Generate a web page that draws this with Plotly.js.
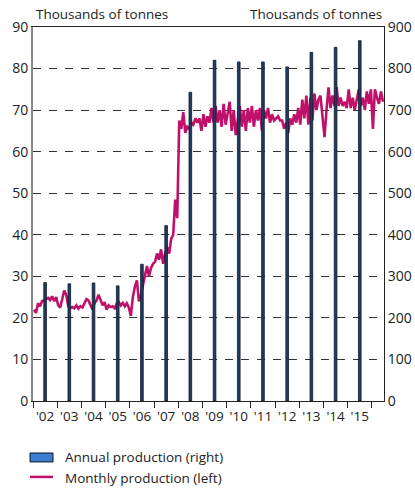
<!DOCTYPE html>
<html>
<head>
<meta charset="utf-8">
<script src="https://cdn.plot.ly/plotly-3.0.1.min.js"></script>
<style>
  html, body { margin: 0; padding: 0; background: #fff; }
  #chart { width: 415px; height: 488px; }
</style>
</head>
<body>
<div id="chart"></div>
<script>
// Annual production, thousands of tonnes (right axis)
var years = [2002, 2003, 2004, 2005, 2006, 2007, 2008, 2009, 2010, 2011, 2012, 2013, 2014, 2015];
var annual = [285, 282, 284, 277, 329, 422, 743, 820, 816, 816, 804, 839, 851, 867];

// Monthly production, thousands of tonnes (left axis), Jan 2002 - Jun 2016
var monthly2002 = [22.0, 21.2, 23.5, 22.8, 24.0, 24.2, 24.5, 24.8, 24.3, 25.2, 24.0, 25.0];
var monthly2003 = [23.0, 22.5, 25.0, 26.6, 25.5, 22.8, 22.4, 22.6, 22.3, 23.0, 22.2, 22.8];
var monthly2004 = [22.5, 23.5, 24.5, 24.2, 23.0, 22.0, 23.5, 24.2, 25.6, 24.3, 23.0, 23.8];
var monthly2005 = [22.0, 23.0, 22.6, 22.8, 22.3, 23.4, 23.8, 23.0, 23.6, 22.8, 23.5, 22.5];
var monthly2006 = [20.5, 25.0, 27.5, 29.0, 24.0, 25.5, 28.0, 30.5, 32.5, 30.0, 32.0, 33.0];
var monthly2007 = [33.5, 35.5, 34.0, 36.5, 33.0, 35.5, 37.0, 35.5, 39.0, 40.0, 48.5, 44.0];
var monthly2008 = [67.5, 65.5, 69.5, 64.5, 66.0, 65.5, 67.0, 66.5, 68.0, 67.0, 68.0, 65.0];
var monthly2009 = [69.0, 66.0, 68.5, 67.0, 70.5, 67.0, 71.0, 67.0, 70.0, 66.0, 71.5, 66.5];
var monthly2010 = [69.0, 72.0, 65.0, 70.0, 64.0, 68.0, 71.0, 66.0, 70.0, 65.0, 70.5, 67.0];
var monthly2011 = [71.0, 66.0, 70.0, 67.5, 70.5, 65.0, 70.0, 68.0, 70.5, 67.0, 69.0, 67.5];
var monthly2012 = [68.0, 68.5, 67.5, 67.5, 65.5, 67.0, 64.5, 68.0, 66.5, 69.0, 67.0, 70.5];
var monthly2013 = [66.5, 72.5, 68.0, 73.5, 66.5, 73.0, 67.5, 74.0, 70.0, 72.5, 73.5, 69.0];
var monthly2014 = [63.5, 70.0, 75.5, 70.5, 73.5, 71.0, 75.5, 71.0, 73.0, 71.0, 72.0, 70.5];
var monthly2015 = [75.0, 70.5, 73.0, 70.0, 72.5, 75.0, 71.0, 73.0, 70.0, 74.5, 71.5, 75.0];
var monthly2016 = [65.5, 75.0, 73.0, 71.5, 74.5, 72.0];

var yearLabels = ["'02", "'03", "'04", "'05", "'06", "'07", "'08", "'09", "'10", "'11", "'12", "'13", "'14", "'15"];
var legendLabels = ['Annual production (right)', 'Monthly production (left)'];

var monthlyByYear = [monthly2002, monthly2003, monthly2004, monthly2005, monthly2006, monthly2007,
  monthly2008, monthly2009, monthly2010, monthly2011, monthly2012, monthly2013, monthly2014,
  monthly2015, monthly2016];

var mx = [], my = [];
monthlyByYear.forEach(function (vals, k) {
  vals.forEach(function (v, m) {
    mx.push(2002 + k + (m + 0.5) / 12);
    my.push(v);
  });
});

var font = "'Open Sans', 'DejaVu Sans', sans-serif";
var barFill = '#1e3d66', barEdge = '#0f1828', lineColor = '#c0116a';

var bars = {
  x: years.map(function (y) { return y + 0.5; }),
  y: annual,
  type: 'bar',
  yaxis: 'y2',
  width: 0.11,
  name: legendLabels[0],
  marker: { color: barFill, line: { color: barEdge, width: 0.8 } }
};

var line = {
  x: mx,
  y: my,
  type: 'scatter',
  mode: 'lines',
  name: legendLabels[1],
  line: { color: lineColor, width: 2.6 }
};

// hand-drawn legend below the plot (paper coordinates)
var legShapes = [
  { type: 'rect', xref: 'paper', yref: 'paper', x0: -0.0085, x1: 0.057, y0: -0.139, y1: -0.163,
    fillcolor: '#3b7dd0', line: { color: barEdge, width: 1 } },
  { type: 'line', xref: 'paper', yref: 'paper', x0: -0.0085, x1: 0.057, y0: -0.203, y1: -0.203,
    line: { color: lineColor, width: 2.5 } }
];

var layout = {
  width: 415,
  height: 488,
  margin: { l: 33, r: 31, t: 27, b: 87 },
  paper_bgcolor: '#fff',
  plot_bgcolor: '#fff',
  font: { family: font, size: 13, color: '#222' },
  showlegend: false,
  xaxis: {
    range: [2002, 2016.5],
    tickvals: years.map(function (y) { return y + 0.5; }),
    ticktext: yearLabels,
    ticks: '',
    ticklabelstandoff: 3,
    showgrid: false,
    zeroline: false,
    showline: true,
    mirror: true,
    linecolor: '#222',
    linewidth: 1,
    tickfont: { size: 13.5, color: '#222' },
    minor: { tick0: 2002, dtick: 1, ticks: 'outside', ticklen: 6, tickcolor: '#222', tickwidth: 1, showgrid: false },
    fixedrange: true
  },
  yaxis: {
    range: [0, 90],
    dtick: 10,
    showgrid: true,
    gridcolor: '#333',
    gridwidth: 1,
    griddash: '7.5px,8.5px',
    zeroline: false,
    showline: true,
    linecolor: '#888',
    linewidth: 2,
    ticks: '',
    tickfont: { size: 14, color: '#222' },
    fixedrange: true
  },
  yaxis2: {
    range: [0, 900],
    dtick: 100,
    overlaying: 'y',
    side: 'right',
    showgrid: false,
    zeroline: false,
    showline: true,
    linecolor: '#222',
    linewidth: 1,
    ticks: '',
    tickfont: { size: 14, color: '#222' },
    fixedrange: true
  },
  shapes: legShapes,
  annotations: [
    { text: 'Thousands of tonnes', xref: 'paper', yref: 'paper', x: 0, y: 1, xanchor: 'left', yanchor: 'bottom',
      xshift: 1, yshift: 2, showarrow: false, font: { size: 13.5, color: '#222' } },
    { text: 'Thousands of tonnes', xref: 'paper', yref: 'paper', x: 1, y: 1, xanchor: 'right', yanchor: 'bottom',
      yshift: 2, showarrow: false, font: { size: 13.5, color: '#222' } },
    { text: legendLabels[0], xref: 'paper', yref: 'paper', x: 0.0855, y: -0.150, xanchor: 'left', yanchor: 'middle',
      showarrow: false, font: { size: 13.5, color: '#222' } },
    { text: legendLabels[1], xref: 'paper', yref: 'paper', x: 0.0855, y: -0.206, xanchor: 'left', yanchor: 'middle',
      showarrow: false, font: { size: 13.5, color: '#222' } }
  ]
};

Plotly.newPlot('chart', [bars, line], layout, { displayModeBar: false, staticPlot: true });
</script>
</body>
</html>
